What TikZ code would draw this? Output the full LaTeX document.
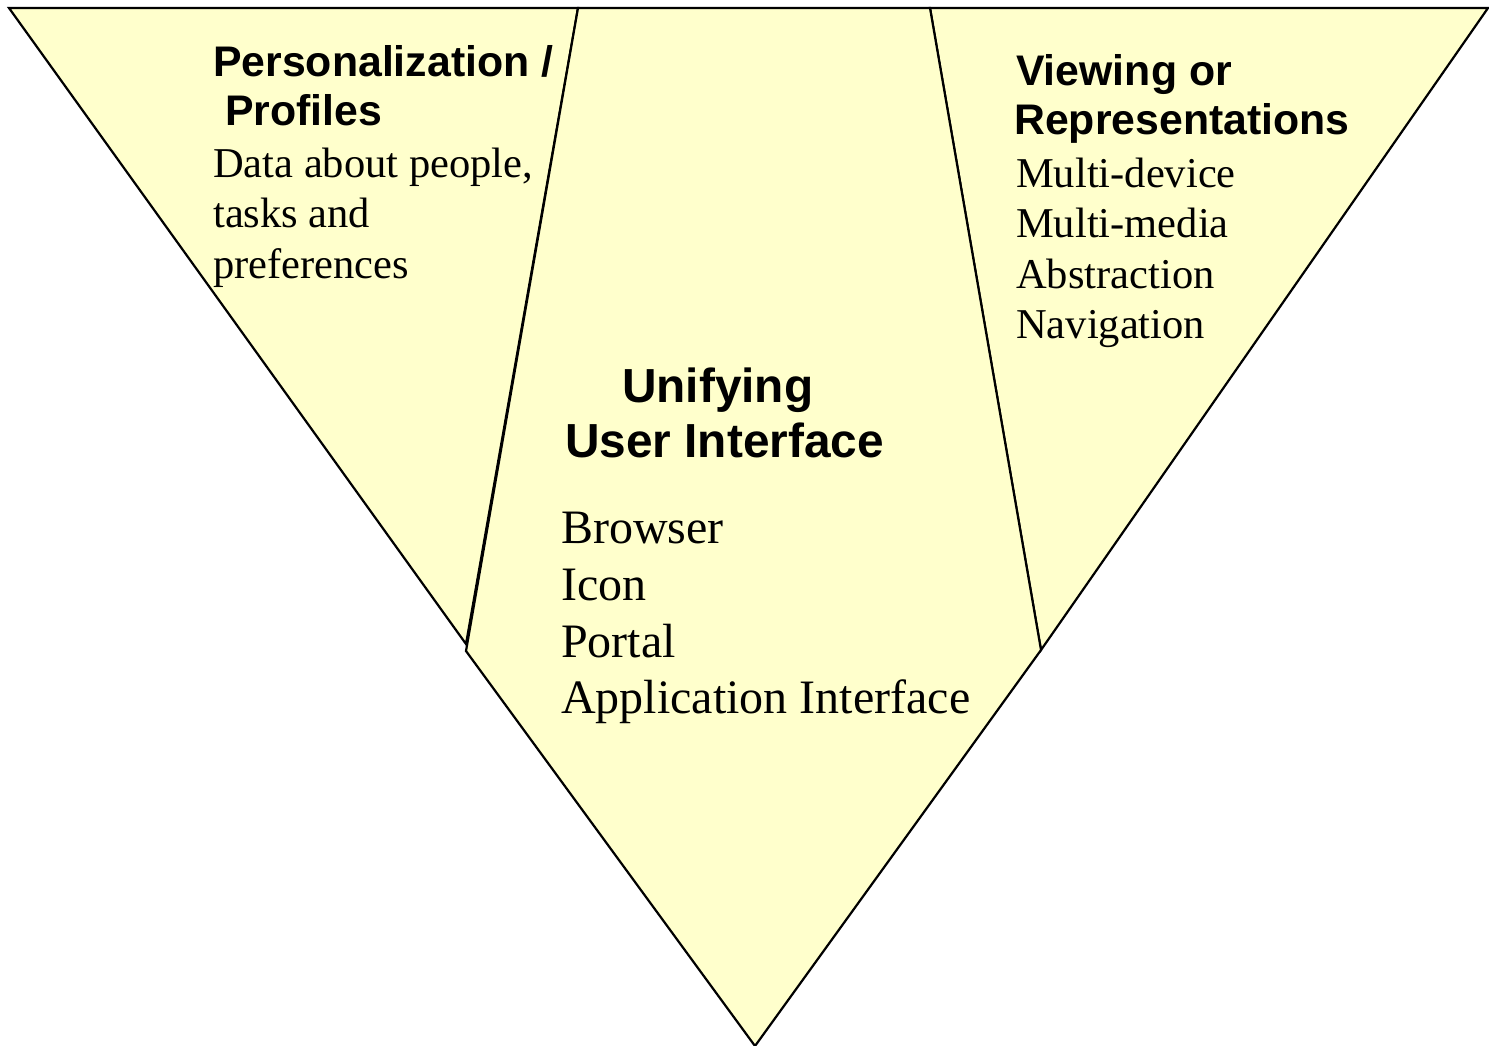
\documentclass[tikz,border=0pt]{standalone}
\usepackage{fontspec}
\setmainfont{Liberation Serif}
\newfontfamily\hsans{Liberation Sans}
\definecolor{paleyellow}{HTML}{FFFFCC}
\tikzset{
  region/.style={fill=paleyellow, draw=black, line width=2.2pt, line join=miter},
  headA/.style={anchor=base west, inner sep=0pt, font=\hsans\bfseries\fontsize{42.8}{50}\selectfont},
  headB/.style={anchor=base west, inner sep=0pt, font=\hsans\bfseries\fontsize{47.8}{57}\selectfont},
  itemA/.style={anchor=base west, inner sep=0pt, font=\fontsize{42.5}{51}\selectfont},
  itemB/.style={anchor=base west, inner sep=0pt, font=\fontsize{48}{57}\selectfont},
}
\begin{document}
\begin{tikzpicture}[x=1pt,y=-1pt]
\useasboundingbox (0,0) rectangle (1489,1045);
\fill[white] (0,0) rectangle (1489,1045);
% regions
\coordinate (TL) at (9,8);
\coordinate (D1) at (578,8);
\coordinate (D2) at (930,8);
\coordinate (TR) at (1488,8);
\coordinate (JL) at (466,644);
\coordinate (JLc) at (466,651);
\coordinate (JR) at (1041,650);
\coordinate (AP) at (755,1046);
\draw[region] (TL) -- (D1) -- (JL) -- cycle;
\draw[region] (D2) -- (TR) -- (JR) -- cycle;
\draw[region] (D1) -- (D2) -- (JR) -- (AP) -- (JLc) -- cycle;
% left texts
\node[headA] (p1) at (213,76) {Personalization /};
\node[headA] (p2) at (225,125) {Profiles};
\node[itemA] (p3) at (213,177) {Data about people,};
\node[itemA] (p4) at (213,227) {tasks and};
\node[itemA] (p5) at (213,278) {preferences};
% right texts
\node[headA] (v1) at (1016,85) {Viewing or};
\node[headA] (v2) at (1014,134) {Representations};
\node[itemA] (v3) at (1016,187) {Multi-device};
\node[itemA] (v4) at (1016,237) {Multi-media};
\node[itemA] (v5) at (1016,288) {Abstraction};
\node[itemA] (v6) at (1016,338) {Navigation};
% center texts
\node[headB] (u1) at (622,402) {Unifying};
\node[headB] (u2) at (565,457) {User Interface};
\node[itemB] (u3) at (561,543) {Browser};
\node[itemB] (u4) at (561,600) {Icon};
\node[itemB] (u5) at (561,657) {Portal};
\node[itemB] (u6) at (561,713) {Application Interface};
\end{tikzpicture}
\end{document}
